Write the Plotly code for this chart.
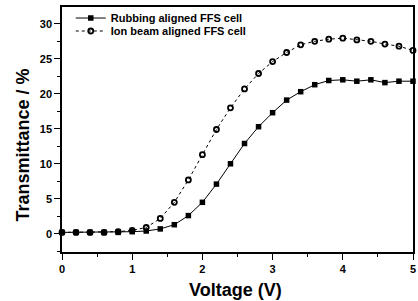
import plotly.graph_objects as go

voltage = [0.0, 0.2, 0.4, 0.6, 0.8, 1.0, 1.2, 1.4, 1.6, 1.8, 2.0, 2.2, 2.4,
           2.6, 2.8, 3.0, 3.2, 3.4, 3.6, 3.8, 4.0, 4.2, 4.4, 4.6, 4.8, 5.0]
rubbing = [0.2, 0.2, 0.2, 0.2, 0.2, 0.3, 0.4, 0.7, 1.3, 2.6, 4.5, 7.1, 10.0,
           12.9, 15.3, 17.3, 19.1, 20.3, 21.3, 21.9, 22.0, 21.8, 22.0, 21.6, 21.8, 21.8]
ionbeam = [0.2, 0.2, 0.2, 0.2, 0.3, 0.5, 0.9, 2.2, 4.5, 7.7, 11.3, 14.9, 18.0,
           20.7, 22.9, 24.6, 25.9, 27.0, 27.5, 27.8, 27.95, 27.7, 27.5, 27.1, 26.8, 26.2]

FONT = "Liberation Sans, Arial, sans-serif"

fig = go.Figure()
fig.add_trace(go.Scatter(
    x=voltage, y=rubbing, mode="lines+markers", name="Rubbing aligned FFS cell",
    line=dict(color="black", width=1),
    marker=dict(symbol="square", size=5.5, color="black"),
    cliponaxis=False, legend="legend",
))
fig.add_trace(go.Scatter(
    x=voltage, y=ionbeam, mode="lines+markers", name="Ion beam aligned FFS cell",
    line=dict(color="black", width=1, dash="dot"),
    marker=dict(symbol="circle-open", size=5, color="black", line=dict(width=1.8)),
    cliponaxis=False, legend="legend2",
))

axis_common = dict(
    showline=True, linecolor="black", linewidth=1.5, mirror=True,
    ticks="outside", ticklen=6, tickwidth=1.2, tickcolor="black",
    showgrid=False, zeroline=False, automargin=False,
    tickfont=dict(family=FONT, size=11, color="black", weight="bold"),
)

fig.update_xaxes(
    range=[0, 5], dtick=1, tick0=0,
    minor=dict(dtick=0.5, ticks="outside", ticklen=3, tickcolor="black"),
    **axis_common,
)
fig.update_yaxes(
    range=[-2.6, 32.4], dtick=5, tick0=0,
    minor=dict(dtick=2.5, ticks="outside", ticklen=3, tickcolor="black"),
    **axis_common,
)

title_font = dict(family=FONT, size=18, color="black", weight="bold")
fig.add_annotation(text="Voltage (V)", xref="paper", yref="paper",
                   x=0.493, y=-0.155, xanchor="center", yanchor="middle",
                   showarrow=False, font=title_font)
fig.add_annotation(text="Transmittance / %", xref="paper", yref="paper",
                   x=-0.11, y=0.436, xanchor="center", yanchor="middle",
                   textangle=-90, showarrow=False, font=title_font)

leg_common = dict(
    xanchor="left", yanchor="middle",
    bgcolor="rgba(0,0,0,0)",
    font=dict(family=FONT, size=11, color="black", weight="bold"),
    itemwidth=30, tracegroupgap=0,
)

fig.update_layout(
    width=418, height=301,
    margin=dict(l=62, r=5, t=7, b=49, autoexpand=False),
    paper_bgcolor="white", plot_bgcolor="white",
    font=dict(family=FONT, color="black"),
    showlegend=True,
    legend=dict(x=0.025, y=0.955, **leg_common),
    legend2=dict(x=0.025, y=0.902, **leg_common),
)

fig.write_html("out.html", config={"displayModeBar": False},
               post_script="document.body.style.margin='0';document.body.style.overflow='hidden';")
